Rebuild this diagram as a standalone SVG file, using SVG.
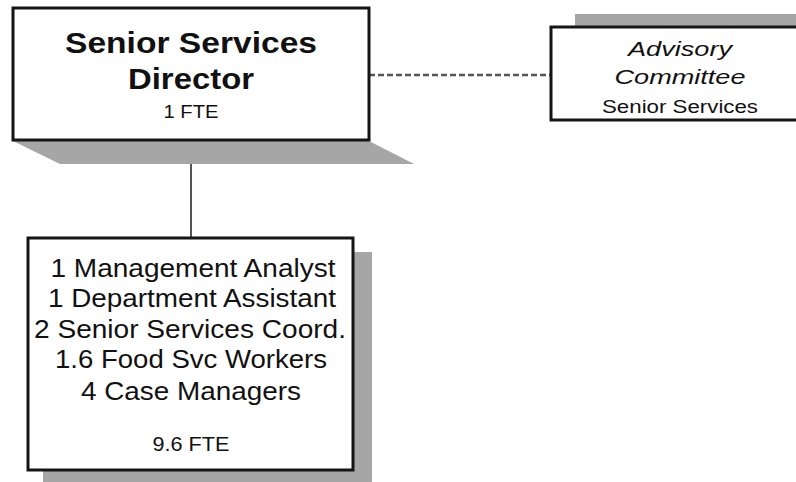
<svg xmlns="http://www.w3.org/2000/svg" width="796" height="482" viewBox="0 0 796 482">
<style>
.shadow{fill:#a6a6a6;stroke:none}
.box{fill:#fff;stroke:#151515;stroke-width:3}
.t{font-family:"Liberation Sans",Arial,sans-serif;fill:#111;text-anchor:middle}
.b{font-weight:bold}
.i{font-style:italic}
.conn{stroke:#555;stroke-width:2;fill:none}
.dash{stroke:#555;stroke-width:2.5;stroke-dasharray:6 3;fill:none}
</style>
<rect width="796" height="482" fill="#fff"/>
<g id="connectors">
<line class="conn" x1="191" y1="140" x2="191" y2="238"/>
<line class="dash" x1="369" y1="75" x2="551" y2="75"/>
</g>
<g id="director">
<polygon class="shadow" points="13,141 369,141 414,164 60,164"/>
<rect class="box" x="13" y="8" width="356" height="132"/>
<text class="t b" x="191" y="53" font-size="30" textLength="252" lengthAdjust="spacingAndGlyphs">Senior Services</text>
<text class="t b" x="191" y="89" font-size="30" textLength="126" lengthAdjust="spacingAndGlyphs">Director</text>
<text class="t" x="191" y="118" font-size="18" textLength="55" lengthAdjust="spacingAndGlyphs">1 FTE</text>
</g>
<g id="advisory">
<rect class="shadow" x="575" y="14" width="230" height="14"/>
<rect class="box" x="551" y="27" width="260" height="93" stroke-width="2.5"/>
<text class="t i" x="680" y="56" font-size="21" textLength="104" lengthAdjust="spacingAndGlyphs">Advisory</text>
<text class="t i" x="680" y="84" font-size="21" textLength="131" lengthAdjust="spacingAndGlyphs">Committee</text>
<text class="t" x="680" y="113" font-size="18" textLength="156" lengthAdjust="spacingAndGlyphs">Senior Services</text>
</g>
<g id="staff">
<rect class="shadow" x="43" y="252" width="329" height="232"/>
<rect class="box" x="28" y="238" width="325" height="232" stroke="#333"/>
<text class="t" x="193" y="277" font-size="26" textLength="285" lengthAdjust="spacingAndGlyphs">1 Management Analyst</text>
<text class="t" x="192" y="307" font-size="26" textLength="288" lengthAdjust="spacingAndGlyphs">1 Department Assistant</text>
<text class="t" x="190" y="338" font-size="26" textLength="312" lengthAdjust="spacingAndGlyphs">2 Senior Services Coord.</text>
<text class="t" x="191" y="368" font-size="26" textLength="272" lengthAdjust="spacingAndGlyphs">1.6 Food Svc Workers</text>
<text class="t" x="191" y="400" font-size="26" textLength="220" lengthAdjust="spacingAndGlyphs">4 Case Managers</text>
<text class="t" x="191" y="451" font-size="20" textLength="77" lengthAdjust="spacingAndGlyphs">9.6 FTE</text>
</g>
</svg>
